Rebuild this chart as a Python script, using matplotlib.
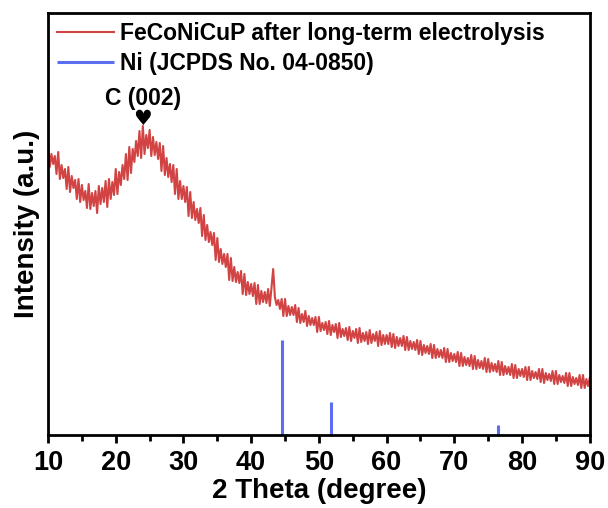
import numpy as np
import matplotlib.pyplot as plt

plt.rcParams['font.family'] = ['Liberation Sans', 'DejaVu Sans']
plt.rcParams['font.weight'] = 'bold'

# XRD pattern, every 0.25 degree (10 ... 90)
two_theta = np.arange(10, 90.01, 0.25)
intensity = [
    294, 268, 281, 271,  279, 261, 283, 256,  270, 257, 266, 246,
    268, 243, 259, 247,  255, 236, 256, 233,  250, 235, 244, 227,
    251, 226, 242, 229,  244, 222, 249, 231,  247, 233, 254, 228,
    256, 236, 253, 240,  266, 241, 263, 250,  270, 256, 281, 255,
    288, 262, 286, 273,  294, 279, 304, 277,  309, 281, 300, 287,
    305, 279, 298, 280,  293, 276, 292, 264,  289, 260, 277, 258,
    271, 253, 270, 241,  266, 236, 254, 236,  249, 233, 248, 219,
    243, 217, 233, 215,  226, 212, 227, 199,  220, 195, 210, 193,
    203, 190, 202, 175,  197, 173, 186, 171,  181, 168, 181, 155,
    177, 154, 168, 153,  163, 152, 164, 141,  161, 140, 153, 141,
    151, 139, 152, 131,  150, 131, 144, 133,  143, 132, 146, 129,
    148, 166, 138, 130,  135, 126, 136, 119,  136, 119, 129, 120,
    128, 120, 130, 113,  127, 112, 121, 113,  124, 109, 119, 110,
    117, 110, 118, 103,  118, 104, 112, 105,  113, 101, 114, 100,
    110, 103, 111, 97,   112, 98, 106, 99,    107, 95, 108, 94,
    104, 97, 106, 92,    107, 93, 102, 94,    103, 91, 105, 92,
    101, 94, 103, 89,    104, 90, 100, 91,    100, 91, 102, 88,
    101, 87, 98, 89,     97, 89, 99, 85,      98, 85, 94, 86,
    93, 85, 95, 81,      94, 80, 90, 82,      89, 81, 91, 77,
    90, 77, 86, 78,      85, 77, 87, 73,      86, 73, 82, 74,
    81, 73, 83, 69,      82, 69, 78, 70,      77, 69, 80, 66,
    79, 66, 75, 67,      74, 66, 77, 63,      76, 63, 72, 64,
    71, 63, 74, 60,      73, 60, 69, 61,      68, 60, 71, 57,
    70, 57, 66, 59,      66, 58, 68, 55,      68, 55, 64, 57,
    63, 56, 66, 53,      66, 52, 62, 55,      61, 54, 64, 51,
    64, 51, 60, 53,      59, 52, 62, 49,      62, 49, 58, 51,
    57, 50, 60, 47,      60, 47, 56, 49,
    57,
]

# Ni reference (JCPDS 04-0850)
ni_pos = [44.5, 51.85, 76.4]
ni_height = [95, 33, 10]

fig = plt.figure(figsize=(6.08, 5.08), dpi=100)
ax = fig.add_axes([0.079, 0.1437, 0.891, 0.8307])

ax.plot(two_theta, intensity, color='#d24343', lw=1.5,
        label='FeCoNiCuP after long-term electrolysis')
ax.vlines(ni_pos, 0, ni_height, color='#5b6ff0', lw=2.2,
          label='Ni (JCPDS No. 04-0850)')

ax.text(24, 337, 'C (002)', ha='center', va='center', fontsize=16.5, fontweight='bold')
ax.text(24, 316, '\u2665', ha='center', va='center', fontsize=15, family='DejaVu Sans')

ax.set_xlim(10, 90)
ax.set_ylim(0, 422)
ax.set_xticks(range(10, 91, 10))
ax.set_xticks(range(15, 90, 10), minor=True)
ax.set_yticks([])
ax.tick_params(axis='x', which='major', length=6, width=2, labelsize=19.5, pad=5)
ax.tick_params(axis='x', which='minor', length=4, width=2)
for s in ax.spines.values():
    s.set_linewidth(2)
for lab in ax.get_xticklabels():
    lab.set_fontweight('bold')

ax.set_xlabel('2 Theta (degree)', fontsize=20, fontweight='bold', labelpad=1)
ax.set_ylabel('Intensity (a.u.)', fontsize=20, fontweight='bold', labelpad=6)

leg = ax.legend(loc='upper left', frameon=False, fontsize=16.5, handlelength=2.5,
                handletextpad=0.25, labelspacing=0.3, borderpad=0.2, borderaxespad=0.2)
for t in leg.get_texts():
    t.set_fontweight('bold')

fig.savefig('out.png', dpi=100)
